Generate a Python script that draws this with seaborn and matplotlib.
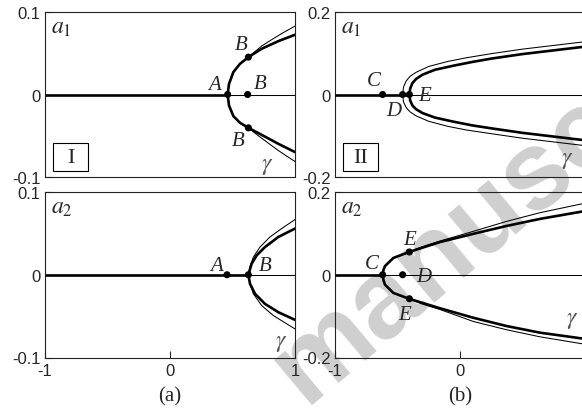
import matplotlib
matplotlib.use("Agg")
import matplotlib.pyplot as plt
import seaborn as sns
import pandas as pd
from matplotlib.patches import Rectangle

# --- data (x = gamma, y = amplitude) ---

# panel I, a1
i1_thick_up_x = [0.461, 0.472, 0.507, 0.560, 0.627, 0.733, 0.867, 1.000]
i1_thick_up_y = [0.000, 0.0128, 0.0272, 0.0372, 0.0453, 0.0554, 0.0647, 0.0724]
i1_thick_lo_x = [0.461, 0.472, 0.507, 0.560, 0.627, 0.733, 0.867, 1.000]
i1_thick_lo_y = [0.000, -0.0133, -0.0262, -0.0343, -0.0404, -0.0489, -0.0598, -0.0698]
i1_thin_up_x = [0.627, 0.680, 0.733, 0.800, 0.867, 0.933, 1.000]
i1_thin_up_y = [0.0453, 0.0520, 0.0587, 0.0652, 0.0715, 0.0773, 0.0829]
i1_thin_lo_x = [0.627, 0.680, 0.733, 0.800, 0.867, 0.933, 1.000]
i1_thin_lo_y = [-0.0404, -0.0468, -0.0529, -0.0605, -0.0679, -0.0746, -0.0812]
i1_points_x = [0.461, 0.627, 0.621, 0.627]
i1_points_y = [0.0, 0.0453, 0.0, -0.0404]

# panel I, a2
i2_thick_up_x = [0.627, 0.653, 0.693, 0.760, 0.867, 1.000]
i2_thick_up_y = [0.000, 0.0133, 0.0234, 0.0335, 0.0457, 0.0558]
i2_thick_lo_x = [0.627, 0.640, 0.680, 0.760, 0.867, 1.000]
i2_thick_lo_y = [0.000, -0.0109, -0.0230, -0.0352, -0.0453, -0.0545]
i2_thin_up_x = [0.627, 0.645, 0.667, 0.720, 0.800, 0.893, 1.000]
i2_thin_up_y = [0.000, 0.0120, 0.0214, 0.0335, 0.0457, 0.0558, 0.0667]
i2_thin_lo_x = [0.627, 0.640, 0.667, 0.733, 0.827, 1.000]
i2_thin_lo_y = [0.000, -0.0109, -0.0230, -0.0372, -0.0493, -0.0655]
i2_points_x = [0.456, 0.627]
i2_points_y = [0.0, 0.0]

# panel II, a1
ii1_thick_up_x = [-0.405, -0.398, -0.380, -0.350, -0.300, -0.200, -0.050, 0.100, 0.250, 0.500, 0.750, 1.000]
ii1_thick_up_y = [0.000, 0.015, 0.028, 0.038, 0.048, 0.060, 0.070, 0.079, 0.087, 0.098, 0.107, 0.116]
ii1_thick_lo_x = [-0.405, -0.398, -0.380, -0.350, -0.300, -0.200, -0.050, 0.100, 0.250, 0.500, 0.750, 1.000]
ii1_thick_lo_y = [0.000, -0.015, -0.027, -0.036, -0.045, -0.056, -0.066, -0.075, -0.082, -0.093, -0.102, -0.111]
ii1_thin_up_x = [-0.459, -0.452, -0.430, -0.400, -0.350, -0.250, -0.100, 0.050, 0.250, 0.500, 0.750, 1.000]
ii1_thin_up_y = [0.000, 0.018, 0.033, 0.044, 0.054, 0.068, 0.080, 0.089, 0.099, 0.110, 0.119, 0.128]
ii1_thin_lo_x = [-0.459, -0.452, -0.430, -0.400, -0.350, -0.250, -0.100, 0.050, 0.250, 0.500, 0.750, 1.000]
ii1_thin_lo_y = [0.000, -0.018, -0.032, -0.042, -0.052, -0.065, -0.077, -0.086, -0.095, -0.106, -0.115, -0.124]
ii1_points_x = [-0.619, -0.459, -0.405]
ii1_points_y = [0.0, 0.0, 0.0]

# panel II, a2
ii2_thick_up_x = [-0.619, -0.612, -0.600, -0.533, -0.408, -0.160, 0.107, 0.373, 0.640, 1.000]
ii2_thick_up_y = [0.000, 0.012, 0.021, 0.0406, 0.055, 0.079, 0.099, 0.118, 0.135, 0.154]
ii2_thick_lo_x = [-0.619, -0.612, -0.600, -0.533, -0.408, -0.160, 0.107, 0.373, 0.640, 1.000]
ii2_thick_lo_y = [0.000, -0.013, -0.024, -0.044, -0.058, -0.081, -0.104, -0.124, -0.140, -0.155]
ii2_thin_up_x = [-0.408, -0.300, -0.160, 0.107, 0.373, 0.640, 1.000]
ii2_thin_up_y = [0.055, 0.068, 0.0815, 0.105, 0.129, 0.150, 0.173]
ii2_thin_lo_x = [-0.408, -0.300, -0.160, 0.107, 0.373, 0.640, 1.000]
ii2_thin_lo_y = [-0.058, -0.071, -0.084, -0.113, -0.133, -0.150, -0.168]
ii2_points_x = [-0.619, -0.405, -0.459, -0.405]
ii2_points_y = [0.0, 0.055, 0.0, -0.058]

# where the thick y=0 branch ends
thick_axis_end = {"i1": 0.461, "i2": 0.627, "ii1": -0.405, "ii2": -0.619}

# point labels: (text, x, y)
i1_labels = [("A", 0.36, 0.012), ("B", 0.573, 0.061), ("B", 0.72, 0.013), ("B", 0.547, -0.056)]
i2_labels = [("A", 0.373, 0.011), ("B", 0.76, 0.011)]
ii1_labels = [("C", -0.688, 0.034), ("D", -0.533, -0.039), ("E", -0.28, -0.002)]
ii2_labels = [("C", -0.707, 0.028), ("E", -0.405, 0.085), ("D", -0.293, -0.004), ("E", -0.44, -0.097)]

sns.set_style("ticks")
SANS = ["Liberation Sans", "Arimo", "DejaVu Sans"]
SERIF = ["Liberation Serif", "DejaVu Serif"]
plt.rcParams["font.family"] = SANS
plt.rcParams["mathtext.fontset"] = "stix"

THICK = 1.9
THIN = 0.75
W, H = 582, 414

fig = plt.figure(figsize=(W / 100, H / 100), dpi=100)


def px_axes(left, top, right, bottom):
    return fig.add_axes([left / W, 1 - bottom / H, (right - left) / W, (bottom - top) / H])


ax_i1 = px_axes(45, 13, 295, 178)
ax_i2 = px_axes(45, 193, 295, 358.5)
ax_ii1 = px_axes(335, 13, 585, 178)
ax_ii2 = px_axes(335, 193, 585, 358.5)


def branch(ax, xs, ys, lw):
    df = pd.DataFrame({"x": xs, "y": ys})
    sns.lineplot(data=df, x="x", y="y", ax=ax, color="black", linewidth=lw,
                 estimator=None, sort=False, zorder=3)


def panel(ax, key, lim, thick, thin, pts, labels, tag, alabel, gamma_xy, bottom):
    ax.set_facecolor("none")
    ax.plot([-1, 1], [0, 0], color="black", lw=THIN, zorder=2)
    ax.plot([-1, thick_axis_end[key]], [0, 0], color="black", lw=THICK,
            solid_capstyle="butt", zorder=3)
    for xs, ys in thin:
        branch(ax, xs, ys, THIN)
    for xs, ys in thick:
        branch(ax, xs, ys, THICK)
    sns.scatterplot(x=pts[0], y=pts[1], ax=ax, color="black", s=26,
                    edgecolor="none", zorder=4)
    for t, x, y in labels:
        ax.text(x, y, t, fontsize=15, family=SERIF, style="italic",
                ha="center", va="center")
    ax.text(0.025, 0.975, alabel, transform=ax.transAxes, fontsize=17,
            ha="left", va="top")
    ax.text(gamma_xy[0], gamma_xy[1], r"$\gamma$", fontsize=17, color="#555555",
            ha="center", va="center")
    if tag:
        ax.add_patch(Rectangle((0.032, 0.036), 0.14, 0.17, transform=ax.transAxes,
                               fill=False, lw=0.8, edgecolor="black"))
        ax.text(0.102, 0.121, tag, transform=ax.transAxes, fontsize=16,
                family=SERIF, ha="center", va="center")
    ax.set_xlim(-1, 1)
    ax.set_ylim(-lim, lim)
    ax.set_yticks([lim, 0, -lim])
    ax.set_yticklabels([f"{lim:g}", "0", f"-{lim:g}"], fontfamily=SANS, fontsize=12)
    ax.set_xlabel("")
    ax.set_ylabel("")
    ax.tick_params(axis="y", direction="in", length=5, width=0.8, pad=3)
    if bottom:
        ax.set_xticks([-1, 0, 1])
        ax.set_xticklabels(["-1", "0", "1"], fontfamily=SANS, fontsize=12)
        ax.tick_params(axis="x", direction="in", length=5, width=0.8, pad=4)
    else:
        ax.set_xticks([])
    for s in ax.spines.values():
        s.set_visible(True)
        s.set_linewidth(0.8)
        s.set_color("#222222")


panel(ax_i1, "i1", 0.1,
      [(i1_thick_up_x, i1_thick_up_y), (i1_thick_lo_x, i1_thick_lo_y)],
      [(i1_thin_up_x, i1_thin_up_y), (i1_thin_lo_x, i1_thin_lo_y)],
      (i1_points_x, i1_points_y), i1_labels, "I", r"$a_1$", (0.78, -0.086), False)
panel(ax_i2, "i2", 0.1,
      [(i2_thick_up_x, i2_thick_up_y), (i2_thick_lo_x, i2_thick_lo_y)],
      [(i2_thin_up_x, i2_thin_up_y), (i2_thin_lo_x, i2_thin_lo_y)],
      (i2_points_x, i2_points_y), i2_labels, None, r"$a_2$", (0.89, -0.081), True)
panel(ax_ii1, "ii1", 0.2,
      [(ii1_thick_up_x, ii1_thick_up_y), (ii1_thick_lo_x, ii1_thick_lo_y)],
      [(ii1_thin_up_x, ii1_thin_up_y), (ii1_thin_lo_x, ii1_thin_lo_y)],
      (ii1_points_x, ii1_points_y), ii1_labels, "II", r"$a_1$", (0.86, -0.156), False)
panel(ax_ii2, "ii2", 0.2,
      [(ii2_thick_up_x, ii2_thick_up_y), (ii2_thick_lo_x, ii2_thick_lo_y)],
      [(ii2_thin_up_x, ii2_thin_up_y), (ii2_thin_lo_x, ii2_thin_lo_y)],
      (ii2_points_x, ii2_points_y), ii2_labels, None, r"$a_2$", (0.9, -0.107), True)

fig.text(170 / W, 1 - 397 / H, "(a)", fontsize=15, family=SERIF,
         ha="center", va="center")
fig.text(460 / W, 1 - 397 / H, "(b)", fontsize=15, family=SERIF,
         ha="center", va="center")

# faint watermark behind the plots
fig.text(305 / W, 1 - 405 / H, "manuscript", fontsize=80, fontweight="bold",
         family=SANS, color="#cfcfcf", rotation=40, rotation_mode="anchor",
         ha="left", va="baseline", zorder=-1)

fig.savefig("out.png", dpi=100)
